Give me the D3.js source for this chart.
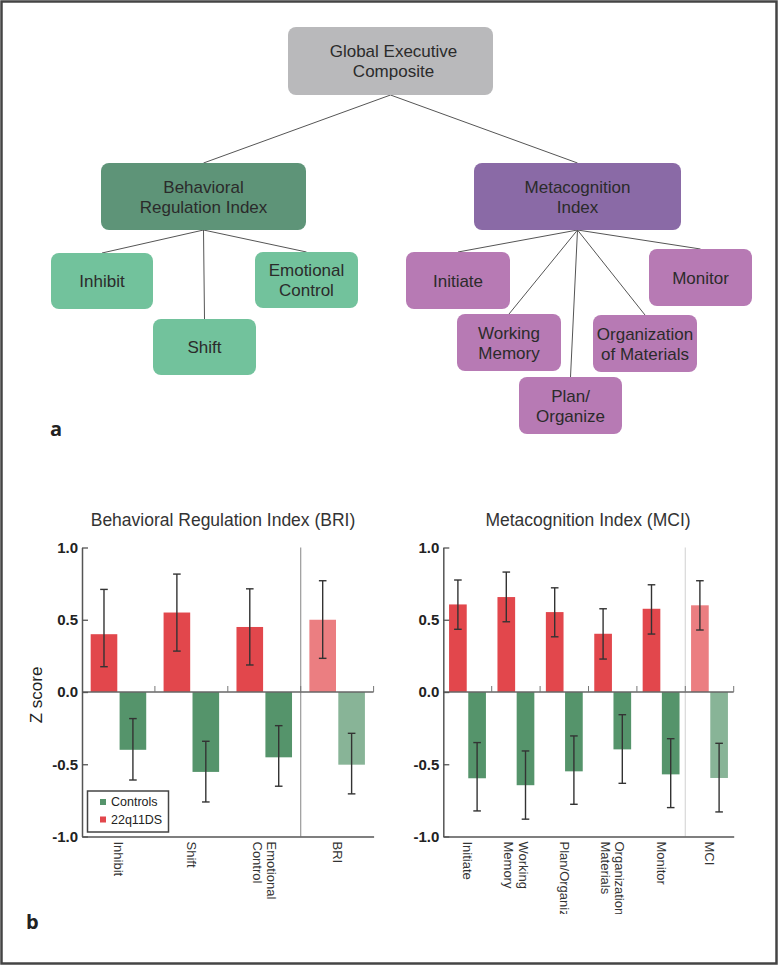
<!DOCTYPE html>
<html><head><meta charset="utf-8">
<script src="https://cdn.jsdelivr.net/npm/d3@7"></script>
<style>html,body{margin:0;padding:0;background:#fff}svg{display:block}</style>
</head><body>
<script>
// ---------- data ----------
const treeNodes = ["Global Executive\nComposite","Behavioral\nRegulation Index","Metacognition\nIndex",
  "Inhibit","Shift","Emotional\nControl",
  "Initiate","Working\nMemory","Plan/\nOrganize","Organization\nof Materials","Monitor"];
const treeParents = [null,0,0,1,1,1,2,2,2,2,2];

const groups = ["22q11DS","Controls"];
const yTicks = [1.0,0.5,0.0,-0.5,-1.0];

const briCategories = ["Inhibit","Shift","Emotional\nControl","BRI"];
const briPatient     = [0.40, 0.55, 0.45, 0.50];
const briPatientLow  = [0.175,0.283,0.187,0.233];
const briPatientHigh = [0.71, 0.816,0.714,0.77];
const briControl     = [-0.40,-0.553,-0.452,-0.503];
const briControlLow  = [-0.609,-0.761,-0.652,-0.705];
const briControlHigh = [-0.184,-0.341,-0.233,-0.286];

const mciCategories = ["Initiate","Working\nMemory","Plan/Organize","Organization of\nMaterials","Monitor","MCI"];
const mciPatient     = [0.606,0.657,0.553,0.403,0.576,0.60];
const mciPatientLow  = [0.434,0.486,0.382,0.228,0.401,0.429];
const mciPatientHigh = [0.775,0.83, 0.721,0.576,0.742,0.77];
const mciControl     = [-0.597,-0.645,-0.549,-0.397,-0.57,-0.595];
const mciControlLow  = [-0.823,-0.88,-0.777,-0.632,-0.80,-0.83];
const mciControlHigh = [-0.35,-0.408,-0.304,-0.157,-0.323,-0.355];

// ---------- drawing ----------
const W = 778, H = 965;
const svg = d3.select("body").append("svg").attr("width", W).attr("height", H)
  .style("font-family", "'Liberation Sans', Arial, Helvetica, sans-serif");

// frame
svg.append("rect").attr("x",1.5).attr("y",1.5).attr("width",W-3).attr("height",H-3)
  .attr("fill","#fff").attr("stroke","#444").attr("stroke-width",2.5);

// ----- panel a: tree -----
const boxLayout = [
  [288,27,205,68],[101,163,205,67],[474,163,207,67],
  [51,253,102,56],[153,319,103,56],[255,252,103,56],
  [406,252,104,57],[457,314,104,57],[519,377,103,57],[593,315,104,57],[649,249,103,57]
];
const boxFill = i => i===0 ? "#b9b9bb" : i===1 ? "#5e9478" : i===2 ? "#8a6aa6" : i<=5 ? "#72c29c" : "#b77ab4";

const tree = svg.append("g");
treeNodes.forEach((n,i) => {
  const p = treeParents[i];
  if (p === null) return;
  const pb = boxLayout[p], cb = boxLayout[i];
  tree.append("line")
    .attr("x1", pb[0]+pb[2]/2).attr("y1", pb[1]+pb[3])
    .attr("x2", cb[0]+cb[2]/2).attr("y2", cb[1])
    .attr("stroke","#555").attr("stroke-width",1);
});
treeNodes.forEach((n,i) => {
  const b = boxLayout[i];
  tree.append("rect").attr("x",b[0]).attr("y",b[1]).attr("width",b[2]).attr("height",b[3])
    .attr("rx",8).attr("fill",boxFill(i));
  const lines = n.split("\n");
  const cx = b[0]+b[2]/2 + (i===0?3:0), cy = b[1]+b[3]/2;
  const t = tree.append("text").attr("text-anchor","middle").attr("font-size",17).attr("fill","#2b2b2b");
  lines.forEach((l,k) => {
    t.append("tspan").attr("x",cx).attr("y", cy + (k-(lines.length-1)/2)*20 + 6).text(l);
  });
});
svg.append("text").attr("x",50).attr("y",436).attr("font-family","'Open Sans', sans-serif")
  .attr("font-weight","bold").attr("font-size",20).attr("fill","#222").text("a");
svg.append("text").attr("x",26).attr("y",929).attr("font-family","'Open Sans', sans-serif")
  .attr("font-weight","bold").attr("font-size",20).attr("fill","#222").text("b");

// ----- panel b: bars -----
const y = d3.scaleLinear().domain([-1,1]).range([836.5,547.5]);
const RED = "#e2474c", GREEN = "#55946b";

svg.append("defs").append("clipPath").attr("id","clipB")
  .append("rect").attr("x",0).attr("y",0).attr("width",W).attr("height",914);

function panel(o){
  const g = svg.append("g");
  const x = d3.scaleBand().domain(o.cats).range(o.xr).paddingInner(0).paddingOuter(0);
  const sub = d3.scaleBand().domain(groups).range([0,x.bandwidth()]).paddingInner(0.08).paddingOuter(0.3);
  const last = o.cats.length-1;

  // title
  g.append("text").attr("x",o.tx).attr("y",526).attr("text-anchor","middle")
    .attr("font-size",17.5).attr("fill","#333").text(o.title);

  // separator
  g.append("line").attr("x1",x(o.cats[last])).attr("x2",x(o.cats[last]))
    .attr("y1",y(1)).attr("y2",y(-1)).attr("stroke",o.sepColor).attr("stroke-width",1.2);

  // bars
  const series = [
    {key:"22q11DS", v:o.pat, lo:o.patLo, hi:o.patHi, c:RED},
    {key:"Controls", v:o.con, lo:o.conLo, hi:o.conHi, c:GREEN}
  ];
  series.forEach(s => {
    o.cats.forEach((c,i) => {
      const v = s.v[i];
      g.append("rect").attr("x",x(c)+sub(s.key)).attr("width",sub.bandwidth())
        .attr("y",y(Math.max(0,v))).attr("height",Math.abs(y(v)-y(0)))
        .attr("fill",s.c).attr("fill-opacity", i===last?0.7:1);
    });
  });

  // zero line with small ticks
  g.append("line").attr("x1",o.xr[0]).attr("x2",o.xr[1]).attr("y1",y(0)).attr("y2",y(0))
    .attr("stroke","#666").attr("stroke-width",1.3);
  o.cats.forEach((c,i) => {
    if (i===0) return;
    g.append("line").attr("x1",x(c)).attr("x2",x(c)).attr("y1",y(0)).attr("y2",y(0)-6)
      .attr("stroke","#777").attr("stroke-width",1);
  });
  g.append("line").attr("x1",o.xr[1]).attr("x2",o.xr[1]).attr("y1",y(0)).attr("y2",y(0)-6)
    .attr("stroke","#777").attr("stroke-width",1);

  // error bars
  series.forEach(s => {
    o.cats.forEach((c,i) => {
      const cx = x(c)+sub(s.key)+sub.bandwidth()/2;
      const e = g.append("g").attr("stroke","#333").attr("stroke-width",1.4);
      e.append("line").attr("x1",cx).attr("x2",cx).attr("y1",y(s.lo[i])).attr("y2",y(s.hi[i]));
      [s.lo[i],s.hi[i]].forEach(v => e.append("line").attr("x1",cx-3.8).attr("x2",cx+3.8)
        .attr("y1",y(v)).attr("y2",y(v)));
    });
  });

  // y axis
  const ya = g.append("g").attr("transform",`translate(${o.xr[0]},0)`)
    .call(d3.axisLeft(y).tickValues(yTicks).tickFormat(d => d.toFixed(1)).tickSize(-6).tickSizeOuter(0).tickPadding(4));
  ya.select(".domain").attr("stroke","#555").attr("stroke-width",1.5);
  ya.selectAll(".tick line").attr("stroke","#555").attr("stroke-width",1.3);
  ya.selectAll(".tick text").attr("font-size",15).attr("font-weight","bold").attr("fill","#222")
    .attr("font-family","'Liberation Sans', Arial, sans-serif");

  // x axis (bottom line)
  const xa = g.append("g").attr("transform",`translate(0,${y(-1)})`)
    .call(d3.axisBottom(x).tickSize(0).tickSizeOuter(0).tickFormat(""));
  xa.select(".domain").attr("stroke","#555").attr("stroke-width",1.5);

  // rotated category labels
  const lab = g.append("g").attr("clip-path","url(#clipB)");
  o.cats.forEach(c => {
    const lines = c.split("\n");
    const t = lab.append("g").attr("transform",`translate(${x(c)+x.bandwidth()/2},${y(-1)+5}) rotate(90)`)
      .append("text").attr("font-size",13).attr("fill","#333");
    lines.forEach((l,k) => {
      t.append("tspan").attr("x",0).attr("y",(k-(lines.length-1)/2)*14.5 + 4.5).text(l);
    });
  });
  return {x,sub,g};
}

panel({cats:briCategories, xr:[82,373.6], title:"Behavioral Regulation Index (BRI)", tx:223,
  pat:briPatient, patLo:briPatientLow, patHi:briPatientHigh,
  con:briControl, conLo:briControlLow, conHi:briControlHigh, sepColor:"#999"});
panel({cats:mciCategories, xr:[443.3,733.7], title:"Metacognition Index (MCI)", tx:588,
  pat:mciPatient, patLo:mciPatientLow, patHi:mciPatientHigh,
  con:mciControl, conLo:mciControlLow, conHi:mciControlHigh, sepColor:"#d8d8d8"});

// y label
svg.append("text").attr("transform","translate(42,695) rotate(-90)").attr("text-anchor","middle")
  .attr("font-size",17).attr("fill","#222").text("Z score");

// legend
const lg = svg.append("g");
lg.append("rect").attr("x",87.5).attr("y",791).attr("width",81).attr("height",41)
  .attr("fill","#fff").attr("stroke","#444").attr("stroke-width",1.5);
const legendItems = ["Controls","22q11DS"];
const legendColors = [GREEN, RED];
legendItems.forEach((name,i) => {
  lg.append("rect").attr("x",100).attr("y",799+i*17.5).attr("width",6).attr("height",6).attr("fill",legendColors[i]);
  lg.append("text").attr("x",111).attr("y",806+i*17.5).attr("font-size",12.5).attr("fill","#222").text(name);
});
</script>
</body></html>
